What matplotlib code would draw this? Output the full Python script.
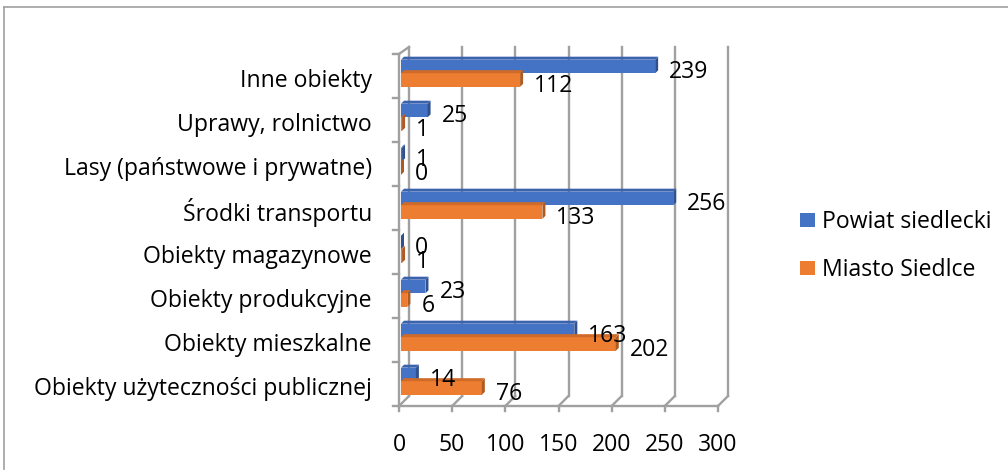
import matplotlib.pyplot as plt
from matplotlib.patches import Polygon, Rectangle
from matplotlib.lines import Line2D

plt.rcParams['font.family'] = ['Open Sans', 'DejaVu Sans']
FS = 16.6

# categories listed bottom to top, as drawn
categories = ["Obiekty użyteczności publicznej", "Obiekty mieszkalne",
              "Obiekty produkcyjne", "Obiekty magazynowe", "Środki transportu",
              "Lasy (państwowe i prywatne)", "Uprawy, rolnictwo", "Inne obiekty"]
powiat = [14, 163, 23, 0, 256, 1, 25, 239]
miasto = [76, 202, 6, 1, 133, 0, 1, 112]
series_names = ["Powiat siedlecki", "Miasto Siedlce"]
xticks = [0, 50, 100, 150, 200, 250, 300]

W, H = 1008, 477
fig = plt.figure(figsize=(W / 100, H / 100), dpi=100)

# front plot area in pixels
left, right, top, bottom = 399, 718, 55, 407
ax = fig.add_axes([left / W, 1 - bottom / H, (right - left) / W, (bottom - top) / H])
ax.set_xlim(0, 300)
ax.set_ylim(-0.5, 7.5)
ax.axis('off')

sx = 300 / (right - left)   # data units per pixel
sy = 8 / (bottom - top)
depth = 10                  # px depth of the walls
grid_c = '#a0a0a0'

# back wall gridlines + floor
for t in xticks:
    ax.add_line(Line2D([t + depth * sx] * 2, [-0.5 + depth * sy, 7.5 + 7 * sy],
                       color=grid_c, lw=1.7, clip_on=False, zorder=1))
    ax.add_line(Line2D([t, t + depth * sx], [-0.5, -0.5 + depth * sy],
                       color=grid_c, lw=1.7, clip_on=False, zorder=1))
    ax.add_line(Line2D([t, t], [-0.5, -0.5 - 5 * sy],
                       color=grid_c, lw=1.7, clip_on=False, zorder=1))
    ax.text(t, -0.5 - 38 * sy, str(t), ha='center', va='center', fontsize=FS)
ax.add_line(Line2D([0, 300], [-0.5, -0.5], color=grid_c, lw=1.7, clip_on=False))

# left wall
ax.add_line(Line2D([0, 0], [-0.5, 7.5], color=grid_c, lw=1.7, clip_on=False))
ax.add_line(Line2D([0, depth * sx], [7.5, 7.5 + 7 * sy], color=grid_c, lw=1.7, clip_on=False))
for k in range(9):
    ax.add_line(Line2D([-6 * sx, 0], [k - 0.5] * 2, color=grid_c, lw=1.7, clip_on=False))

colors = [('#4472c4', '#2f528f', '#3a62ae'), ('#ed7d31', '#ae5a21', '#d06a28')]
bh = 0.31
x0 = 2 * sx
d = 3

def bar3d(y, v, cols):
    front, side, topc = cols
    xe = x0 + v
    yb, yt = y - bh / 2, y + bh / 2
    ax.add_patch(Rectangle((x0, yb), v, bh, facecolor=front, edgecolor='none', zorder=3))
    ax.add_patch(Polygon([(xe, yb), (xe, yt), (xe + d * sx, yt + d * sy), (xe + d * sx, yb + d * sy)],
                         closed=True, facecolor=side, edgecolor='none', zorder=3))
    ax.add_patch(Polygon([(x0, yt), (xe, yt), (xe + d * sx, yt + d * sy), (x0 + d * sx, yt + d * sy)],
                         closed=True, facecolor=topc, edgecolor='none', zorder=3))
    ax.text(xe + 14 * sx, y - 5 * sy, str(v), ha='left', va='center', fontsize=FS, zorder=4)

for i, (p, m) in enumerate(zip(powiat, miasto)):
    bar3d(i + 9.5 * sy, p, colors[0])
    bar3d(i - 4 * sy, m, colors[1])
    ax.text(-27 * sx, i - 4 * sy, categories[i], ha='right', va='center', fontsize=FS)

# legend
for j, name in enumerate(series_names):
    yc = 221 + 48 * j
    fig.patches.append(Rectangle((800 / W, 1 - (yc + 7) / H), 15 / W, 14 / H,
                                 transform=fig.transFigure, facecolor=colors[j][0],
                                 edgecolor='none'))
    fig.text(822 / W, 1 - (yc + 1) / H, name, ha='left', va='center', fontsize=FS)

# chart frame
fig.add_artist(Line2D([4 / W, 1], [1 - 8 / H] * 2, color='#a0a0a0', lw=1.2))
fig.add_artist(Line2D([4 / W] * 2, [1 - 8 / H, 1 - 470 / H], color='#a0a0a0', lw=1.2))

fig.savefig('out.png', dpi=100)
